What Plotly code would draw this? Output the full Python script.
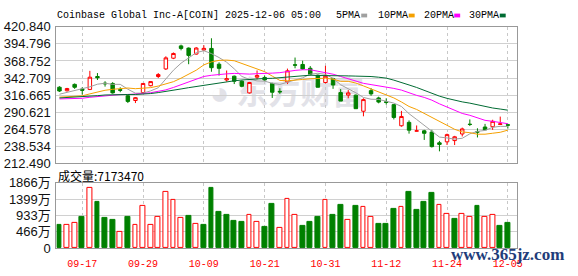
import plotly.graph_objects as go

# ---------------- data ----------------
dates = ["09-12", "09-15", "09-16", "09-17", "09-18", "09-19", "09-22", "09-23", "09-24", "09-25",
         "09-26", "09-29", "09-30", "10-01", "10-02", "10-03", "10-06", "10-07", "10-08", "10-09",
         "10-10", "10-13", "10-14", "10-15", "10-16", "10-17", "10-20", "10-21", "10-22", "10-23",
         "10-24", "10-27", "10-28", "10-29", "10-30", "10-31", "11-03", "11-04", "11-05", "11-06",
         "11-07", "11-10", "11-11", "11-12", "11-13", "11-14", "11-17", "11-18", "11-19", "11-20",
         "11-21", "11-24", "11-25", "11-26", "11-28", "12-01", "12-02", "12-03", "12-04", "12-05"]

opens = [328.7, 323.3, 333.0, 325.8, 325.3, 345.0, 334.9, 334.4, 325.0, 315.6,
         308.4, 320.5, 331.0, 345.0, 356.6, 373.0, 391.8, 388.4, 379.3, 385.5,
         387.9, 363.8, 339.7, 345.5, 337.8, 320.0, 344.0, 343.6, 334.4, 322.4,
         336.8, 362.9, 363.4, 357.6, 347.0, 335.9, 341.7, 320.5, 316.6, 316.6,
         292.0, 323.4, 312.3, 306.5, 302.1, 269.8, 275.0, 261.6, 262.1, 260.2,
         243.8, 245.3, 247.2, 257.3, 272.2, 260.7, 267.9, 268.4, 271.8, 271.3]
highs = [330.2, 327.7, 334.4, 328.6, 353.7, 350.3, 337.8, 336.4, 328.6, 317.0,
         313.7, 334.9, 337.8, 350.3, 375.9, 381.7, 393.7, 389.4, 389.9, 392.8,
         403.4, 366.7, 354.2, 346.5, 339.3, 336.8, 354.2, 346.5, 335.4, 327.2,
         357.1, 374.0, 369.2, 361.0, 348.0, 361.4, 343.1, 325.8, 324.3, 317.6,
         311.8, 327.2, 314.2, 311.8, 303.1, 292.5, 278.0, 270.3, 263.6, 263.6,
         246.7, 257.8, 254.4, 267.0, 279.5, 266.0, 272.7, 279.0, 283.8, 272.7]
lows = [321.4, 322.0, 326.2, 317.4, 324.3, 339.7, 329.6, 319.0, 321.0, 304.5,
        304.5, 320.0, 330.0, 342.6, 355.0, 371.6, 385.0, 363.8, 378.3, 384.1,
        352.3, 346.5, 337.3, 333.5, 328.6, 319.0, 340.7, 338.3, 312.3, 318.5,
        333.5, 357.6, 355.6, 346.5, 328.6, 334.4, 326.2, 307.5, 311.8, 295.9,
        284.3, 315.6, 304.1, 302.1, 279.5, 268.4, 257.8, 261.1, 248.2, 236.6,
        230.8, 240.4, 240.4, 253.5, 269.4, 252.0, 263.6, 263.6, 271.8, 265.5]
closes = [322.9, 326.7, 328.6, 324.0, 344.0, 343.2, 334.0, 320.0, 324.0, 307.0,
          312.7, 334.4, 337.3, 348.0, 373.5, 380.2, 387.9, 377.3, 388.5, 388.0,
          358.5, 357.5, 341.7, 337.8, 330.1, 335.9, 346.5, 339.7, 321.0, 321.6,
          353.7, 362.4, 356.6, 348.4, 328.6, 345.5, 332.0, 307.5, 320.0, 295.9,
          309.8, 318.5, 306.0, 305.5, 282.5, 284.0, 263.1, 262.1, 258.3, 238.0,
          241.4, 256.3, 253.0, 265.0, 271.8, 260.2, 263.6, 276.6, 272.7, 270.8]
# volume in 万 (10,000 shares)
volumes = [676, 667, 721, 892, 1721, 1324, 865, 811, 478, 892,
           667, 1207, 667, 883, 1595, 1378, 856, 919, 694, 676,
           1730, 1027, 946, 784, 757, 937, 748, 595, 1270, 586,
           1397, 964, 649, 757, 901, 1378, 946, 1243, 811, 1216,
           1189, 892, 703, 703, 1117, 1189, 1595, 1081, 1324, 1568,
           1234, 991, 838, 991, 892, 1216, 892, 937, 649, 717.347]

# moving-average values at the left edge (their windows start before the shown range)
ma5_lead = [318.0, 321.0, 324.0, 326.0]
ma10_lead = [313.5, 314.0, 314.5, 315.5, 318.5, 321.5, 324.0, 325.5, 327.0]
ma20_lead = [310.8, 311.0, 311.3, 311.8, 313.3, 314.5, 315.8, 317.0, 317.5, 317.6,
             317.8, 318.9, 320.3, 322.2, 324.6, 328.3, 332.3, 336.7, 340.6]
ma30_lead = [312.3, 312.8, 313.3, 313.8, 314.8, 315.8, 316.8, 317.3, 317.6, 317.6,
             317.6, 317.8, 319.0, 320.5, 322.0, 323.8, 326.0, 328.0, 329.8, 331.5,
             333.7, 335.6, 337.0, 338.5, 339.7, 340.8, 341.2, 342.0, 342.3]

price_tick_labels = ["212.490", "238.534", "264.578", "290.621", "316.665",
                     "342.709", "368.752", "394.796", "420.840"]
vol_tick_values = [0, 466.5, 933, 1399.5, 1866]
vol_tick_labels = ["0", "466万", "933万", "1399万", "1866万"]
date_tick_labels = ["09-17", "09-29", "10-09", "10-21", "10-31", "11-12", "11-24", "12-05"]
title_text = "Coinbase Global Inc-A[COIN] 2025-12-06 05:00"
last_volume_text = "7173470"
ma_names = ["5PMA", "10PMA", "20PMA", "30PMA"]

# ---------------- styles ----------------
RED = "#ff0000"
GREEN = "#008000"
MA_COLORS = ["#a0a0a0", "#f5a000", "#ff00ff", "#006b33"]
W, H = 578, 276
PL, PR = 57, 522
MAIN_T, MAIN_B = 21, 165.3
VOL_T, VOL_B = 186, 255


def px(x):
    return x / W


def py(y):
    return 1 - y / H


def moving_average(lead, n):
    out = list(lead)
    for i in range(n - 1, len(closes)):
        out.append(sum(closes[i - n + 1:i + 1]) / n)
    return out


mas = [moving_average(ma5_lead, 5), moving_average(ma10_lead, 10),
       moving_average(ma20_lead, 20), moving_average(ma30_lead, 30)]

ups = []
for i, c in enumerate(closes):
    ref = closes[i - 1] if i > 0 else opens[i]
    ups.append(c >= ref)

fig = go.Figure()

fig.add_trace(go.Candlestick(
    x=dates, open=opens, high=highs, low=lows, close=closes,
    increasing=dict(line=dict(color=RED, width=1), fillcolor="white"),
    decreasing=dict(line=dict(color=GREEN, width=1), fillcolor=GREEN),
    whiskerwidth=0, xaxis="x", yaxis="y", hoverinfo="skip",
))

for ma, col in zip(mas, MA_COLORS):
    fig.add_trace(go.Scatter(x=dates, y=ma, mode="lines",
                             line=dict(color=col, width=1), xaxis="x", yaxis="y",
                             hoverinfo="skip"))

fig.add_trace(go.Bar(
    x=dates, y=volumes, width=0.62,
    marker=dict(color=["white" if u else GREEN for u in ups],
                line=dict(color=[RED if u else GREEN for u in ups], width=1)),
    xaxis="x2", yaxis="y2", hoverinfo="skip",
))

xdom = [px(PL), px(PR)]
x_range = [-0.4, len(dates) - 1 + 1.15]
axis_common = dict(showline=True, mirror=True, linecolor="#999999", linewidth=1,
                   zeroline=False, fixedrange=True)

fig.update_layout(
    width=W, height=H, margin=dict(l=0, r=0, t=0, b=0),
    paper_bgcolor="white", plot_bgcolor="rgba(0,0,0,0)", showlegend=False,
    boxgap=0.35, bargap=0,
    xaxis=dict(domain=xdom, type="category", range=x_range, rangeslider=dict(visible=False),
               tickmode="array", tickvals=date_tick_labels, showticklabels=False,
               showgrid=True, gridcolor="#c8c8c8", griddash="3px,3px", gridwidth=1,
               ticks="", **axis_common),
    yaxis=dict(domain=[py(MAIN_B), py(MAIN_T)], range=[float(price_tick_labels[0]), float(price_tick_labels[-1])],
               tickmode="array", tickvals=[float(t) for t in price_tick_labels], ticktext=price_tick_labels,
               showgrid=True, gridcolor="#d0d0d0", gridwidth=1, ticks="",
               tickfont=dict(family="Liberation Sans", size=13, color="#111111"),
               ticklabelstandoff=2, **axis_common),
    xaxis2=dict(domain=xdom, type="category", range=x_range, anchor="y2",
                tickmode="array", tickvals=date_tick_labels, ticktext=date_tick_labels,
                showgrid=True, gridcolor="#c8c8c8", griddash="3px,3px", gridwidth=1, ticks="",
                tickfont=dict(family="Liberation Mono", size=10, color=RED),
                ticklabelstandoff=6, **axis_common),
    yaxis2=dict(domain=[py(VOL_B), py(VOL_T)], range=[0, vol_tick_values[-1]], anchor="x2",
                tickmode="array", tickvals=vol_tick_values, ticktext=vol_tick_labels,
                showgrid=True, gridcolor="#d0d0d0", gridwidth=1, ticks="",
                tickfont=dict(family="Liberation Sans, Noto Sans CJK SC", size=13, color="#111111"),
                ticklabelstandoff=2, **axis_common),
)

annotations = [
    dict(text=title_text, x=px(56), y=py(9), xref="paper", yref="paper", xanchor="left",
         yanchor="middle", showarrow=False, font=dict(family="Liberation Mono", size=10, color="#000000")),
    dict(text="成交量:" + last_volume_text, x=px(57), y=py(178), xref="paper", yref="paper",
         xanchor="left", yanchor="middle", showarrow=False,
         font=dict(family="Noto Sans CJK SC", size=12, color="#000000")),
    dict(text="www.365jz.com", x=px(513), y=py(262), xref="paper", yref="paper",
         xanchor="center", yanchor="middle", showarrow=False,
         font=dict(family="Liberation Serif", size=17, color="#1f3d7a", weight="bold")),
]
legend_text_x = [338, 380, 426, 472]
legend_square_x = [365, 413, 459, 505]
shapes = []
for name, tx, sx, col in zip(ma_names, legend_text_x, legend_square_x, MA_COLORS):
    annotations.append(dict(text=name, x=px(tx), y=py(9), xref="paper", yref="paper",
                            xanchor="left", yanchor="middle", showarrow=False,
                            font=dict(family="Liberation Mono", size=10, color="#000000")))
    shapes.append(dict(type="rect", xref="paper", yref="paper", x0=px(sx), x1=px(sx + 6),
                       y0=py(11), y1=py(7), fillcolor=col, line=dict(width=0)))

# faint watermark behind the chart (plot background is transparent so it shows through)
shapes.append(dict(type="rect", xref="paper", yref="paper", x0=px(200), x1=px(380),
                   y0=py(113), y1=py(73), line=dict(width=0), fillcolor="rgba(0,0,0,0)",
                   layer="below",
                   label=dict(text="◕ 东方财富", textposition="middle center",
                              font=dict(family="Noto Sans CJK SC", size=32, color="#e2e2e8",
                                        weight="bold"))))

fig.update_layout(annotations=annotations, shapes=shapes)
fig.write_html("out.html")
